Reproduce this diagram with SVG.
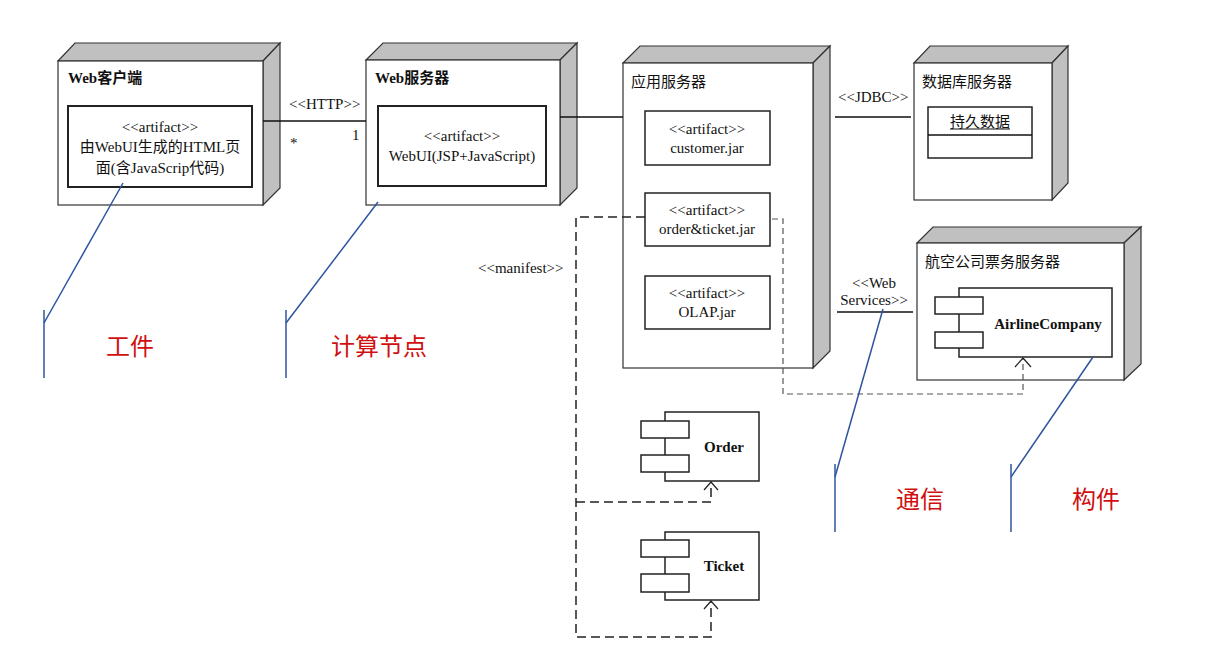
<svg xmlns="http://www.w3.org/2000/svg" width="1205" height="645" viewBox="0 0 1205 645">
<style>
.face{fill:#fff;stroke:#333;stroke-width:1.2}
.side{fill:#c0c0c0;stroke:#333;stroke-width:1.2}
.box{fill:#fff;stroke:#222;stroke-width:1.5}
.thick{fill:#fff;stroke:#222;stroke-width:2}
.t{font-family:"Liberation Serif","Noto Sans CJK SC",serif;font-size:15px;fill:#111}
.tc{font-family:"Liberation Serif","Noto Sans CJK SC",serif;font-size:15px;fill:#111;text-anchor:middle}
.b{font-weight:bold}
.ln{stroke:#111;stroke-width:1.5;fill:none}
.dash{stroke:#222;stroke-width:1.5;fill:none;stroke-dasharray:9,5}
.dash2{stroke:#555;stroke-width:1.2;fill:none;stroke-dasharray:6,4}
.arr{stroke:#222;stroke-width:1.2;fill:none}
.note{stroke:#2f55a0;stroke-width:1.5;fill:none}
.red{font-family:"Noto Sans CJK SC","Noto Sans",sans-serif;font-size:24px;fill:#d01010}
</style>

<g id="web-client">
<polygon class="side" points="58,61 75,43 280,43 263,61"/>
<polygon class="side" points="263,61 280,43 280,188 263,205"/>
<rect class="face" x="58" y="61" width="205" height="144"/>
<text class="t b" x="68" y="83">Web客户端</text>
<rect class="thick" x="68" y="106" width="184" height="81"/>
<text class="tc" x="160" y="132">&lt;&lt;artifact&gt;&gt;</text>
<text class="tc" x="160" y="152">由WebUI生成的HTML页</text>
<text class="tc" x="160" y="173">面(含JavaScrip代码)</text>
</g>

<g id="web-server">
<polygon class="side" points="366,60 383,43 577,43 560,60"/>
<polygon class="side" points="560,60 577,43 577,188 560,205"/>
<rect class="face" x="366" y="60" width="194" height="145"/>
<text class="t b" x="375" y="83">Web服务器</text>
<rect class="thick" x="378" y="106" width="168" height="80"/>
<text class="tc" x="462" y="141">&lt;&lt;artifact&gt;&gt;</text>
<text class="tc" x="462" y="161">WebUI(JSP+JavaScript)</text>
</g>

<g id="app-server">
<polygon class="side" points="623,63 640,46 830,46 813,63"/>
<polygon class="side" points="813,63 830,46 830,351 813,368"/>
<rect class="face" x="623" y="63" width="190" height="305"/>
<text class="t" x="631" y="87">应用服务器</text>
<rect class="box" x="645" y="111" width="125" height="54"/>
<text class="tc" x="707" y="134">&lt;&lt;artifact&gt;&gt;</text>
<text class="tc" x="707" y="153">customer.jar</text>
<rect class="box" x="645" y="193" width="125" height="53"/>
<text class="tc" x="707" y="215">&lt;&lt;artifact&gt;&gt;</text>
<text class="tc" x="707" y="234">order&amp;ticket.jar</text>
<rect class="box" x="645" y="276" width="125" height="53"/>
<text class="tc" x="707" y="298">&lt;&lt;artifact&gt;&gt;</text>
<text class="tc" x="707" y="317">OLAP.jar</text>
</g>

<g id="db-server">
<polygon class="side" points="914,63 930,46 1068,46 1052,63"/>
<polygon class="side" points="1052,63 1068,46 1068,183 1052,200"/>
<rect class="face" x="914" y="63" width="138" height="137"/>
<text class="t" x="922" y="87">数据库服务器</text>
<rect class="box" x="928" y="107" width="104" height="51"/>
<line class="ln" x1="928" y1="135" x2="1032" y2="135"/>
<text class="tc" x="980" y="127">持久数据</text>
<line x1="950" y1="129" x2="1010" y2="129" stroke="#111" stroke-width="1"/>
</g>

<g id="airline-server">
<polygon class="side" points="917,243 933,227 1141,227 1124,243"/>
<polygon class="side" points="1124,243 1141,227 1141,364 1124,380"/>
<rect class="face" x="917" y="243" width="207" height="137"/>
<text class="t" x="925" y="267">航空公司票务服务器</text>
<rect class="box" x="959" y="288" width="153" height="69"/>
<rect class="box" x="935" y="297" width="48" height="17"/>
<rect class="box" x="935" y="332" width="48" height="16"/>
<text class="tc b" x="1048" y="329">AirlineCompany</text>
</g>

<g id="order">
<rect class="box" x="665" y="412" width="94" height="69"/>
<rect class="box" x="641" y="421" width="48" height="17"/>
<rect class="box" x="641" y="455" width="48" height="17"/>
<text class="tc b" x="724" y="452">Order</text>
</g>

<g id="ticket">
<rect class="box" x="665" y="532" width="94" height="68"/>
<rect class="box" x="641" y="540" width="48" height="17"/>
<rect class="box" x="641" y="574" width="48" height="18"/>
<text class="tc b" x="724" y="571">Ticket</text>
</g>

<g id="connectors">
<line class="ln" x1="263" y1="121" x2="366" y2="121"/>
<text class="t" x="289" y="109">&lt;&lt;HTTP&gt;&gt;</text>
<text class="t" x="290" y="148">*</text>
<text class="t" x="352" y="140">1</text>
<line class="ln" x1="560" y1="117" x2="623" y2="117"/>
<line class="ln" x1="835" y1="117" x2="911" y2="117"/>
<text class="t" x="838" y="102">&lt;&lt;JDBC&gt;&gt;</text>
<line class="ln" x1="837" y1="312" x2="913" y2="312"/>
<text class="tc" x="874" y="288">&lt;&lt;Web</text>
<text class="tc" x="874" y="305">Services&gt;&gt;</text>

<polyline class="dash" points="645,217 576,217 576,637 711,637 711,602"/>
<polyline class="dash" points="576,502 711,502 711,483"/>
<polyline class="arr" points="704,490 711,482 718,490"/>
<polyline class="arr" points="704,609 711,601 718,609"/>
<text class="t" x="478" y="273">&lt;&lt;manifest&gt;&gt;</text>

<polyline class="dash2" points="772,219 783,219 783,394 1023,394 1023,359"/>
<polyline class="arr" points="1015,367 1023,358 1031,367"/>
</g>

<g id="annotations">
<polyline class="note" points="123,183 44,323"/>
<line class="note" x1="44" y1="310" x2="44" y2="378"/>
<text class="red" x="106" y="355">工件</text>
<polyline class="note" points="378,202 286,323"/>
<line class="note" x1="286" y1="310" x2="286" y2="378"/>
<text class="red" x="331" y="355">计算节点</text>
<polyline class="note" points="883,309 835,477"/>
<line class="note" x1="835" y1="464" x2="835" y2="532"/>
<text class="red" x="896" y="508">通信</text>
<polyline class="note" points="1093,357 1011,477"/>
<line class="note" x1="1011" y1="464" x2="1011" y2="532"/>
<text class="red" x="1072" y="508">构件</text>
</g>
</svg>
